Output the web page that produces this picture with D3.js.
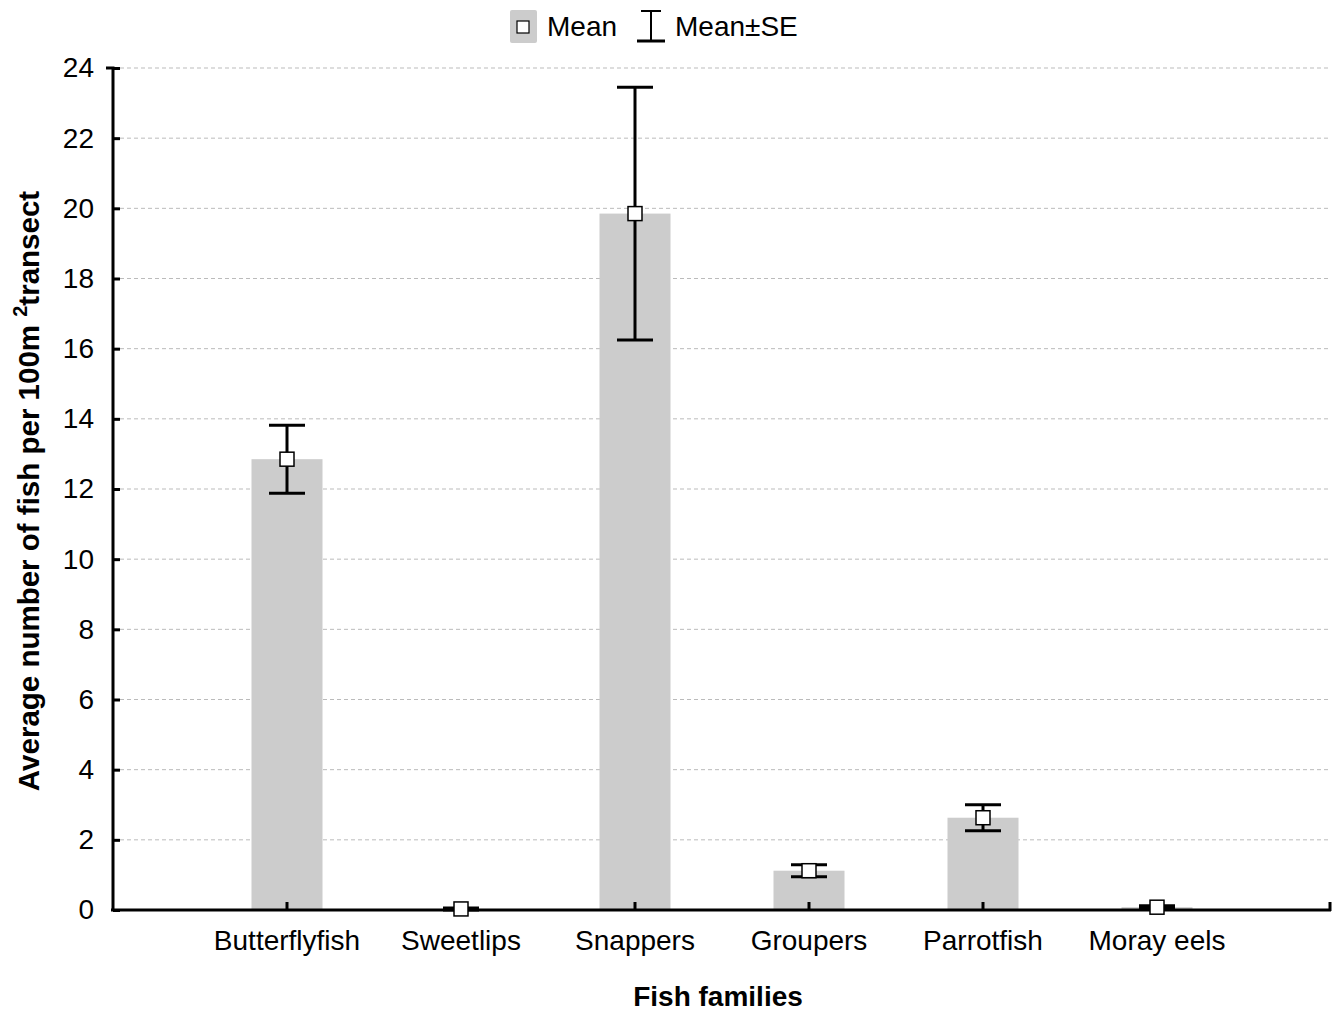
<!DOCTYPE html>
<html><head><meta charset="utf-8">
<script src="https://cdn.jsdelivr.net/npm/d3@7"></script>
<style>body{margin:0;background:#fff;} text{font-family:"Liberation Sans",Arial,sans-serif;}</style>
</head><body>
<svg id="c" width="1337" height="1011"></svg>
<script>
const categories = ["Butterflyfish","Sweetlips","Snappers","Groupers","Parrotfish","Moray eels"];
const means = [12.85, 0.03, 19.85, 1.12, 2.63, 0.08];
const se = [0.97, 0.03, 3.6, 0.17, 0.37, 0.04];
const yTicks = [0,2,4,6,8,10,12,14,16,18,20,22,24];

const svg = d3.select("#c");
const L = 113, R = 1331, T = 68, B = 910;
const x = d3.scaleLinear().domain([0, categories.length + 1]).range([L, R]);
const y = d3.scaleLinear().domain([0, 24]).range([B, T]);

// gridlines
svg.append("g").selectAll("line").data(yTicks.filter(d => d > 0)).join("line")
  .attr("x1", L).attr("x2", R).attr("y1", d => y(d)).attr("y2", d => y(d))
  .attr("stroke", "#bbb").attr("stroke-width", 1).attr("stroke-dasharray", "4,3");

// bars
const bw = 71;
svg.append("g").selectAll("rect").data(means).join("rect")
  .attr("x", (d, i) => x(i + 1) - bw / 2).attr("width", bw)
  .attr("y", d => y(d)).attr("height", d => B - y(d))
  .attr("fill", "#cccccc");

// y axis
const yAxis = d3.axisLeft(y).tickValues(yTicks).tickSize(-7).tickPadding(14).tickFormat(d3.format("d"));
const gy = svg.append("g").attr("transform", `translate(${L},0)`).call(yAxis);
gy.select(".domain").attr("stroke", "#000").attr("stroke-width", 3).attr("d", `M-7,${T}H0V${B}`);
gy.selectAll(".tick line").attr("stroke", "#000").attr("stroke-width", 3);
gy.selectAll(".tick text").attr("font-size", 28).attr("fill", "#000").attr("font-family", "Liberation Sans, Arial, sans-serif").attr("x", -19);
gy.selectAll(".tick").filter(d => d === 24).select("line").attr("x1", 0).attr("x2", 7);

// x axis
const gx = svg.append("g").attr("transform", `translate(0,${B})`);
gx.append("line").attr("x1", L - 2).attr("x2", R).attr("y1", 0).attr("y2", 0).attr("stroke", "#000").attr("stroke-width", 3);
gx.selectAll("line.t").data(categories).join("line").attr("class", "t")
  .attr("x1", (d, i) => x(i + 1)).attr("x2", (d, i) => x(i + 1)).attr("y1", 0).attr("y2", -8)
  .attr("stroke", "#000").attr("stroke-width", 3);
gx.append("line").attr("x1", R - 1).attr("x2", R - 1).attr("y1", 1).attr("y2", -8).attr("stroke", "#000").attr("stroke-width", 3);
gx.selectAll("text").data(categories).join("text")
  .attr("x", (d, i) => x(i + 1)).attr("y", 40).attr("text-anchor", "middle")
  .attr("font-size", 28).attr("fill", "#000").text(d => d);

// error bars
const cap = 36;
const eb = svg.append("g");
means.forEach((m, i) => {
  const cx = x(i + 1);
  const hi = y(m + se[i]), lo = y(m - se[i]);
  eb.append("line").attr("x1", cx).attr("x2", cx).attr("y1", hi).attr("y2", lo).attr("stroke", "#000").attr("stroke-width", 3);
  eb.append("line").attr("x1", cx - cap / 2).attr("x2", cx + cap / 2).attr("y1", hi).attr("y2", hi).attr("stroke", "#000").attr("stroke-width", 3);
  eb.append("line").attr("x1", cx - cap / 2).attr("x2", cx + cap / 2).attr("y1", lo).attr("y2", lo).attr("stroke", "#000").attr("stroke-width", 3);
  eb.append("rect").attr("x", cx - 7).attr("y", y(m) - 7).attr("width", 14).attr("height", 14)
    .attr("fill", "#fff").attr("stroke", "#000").attr("stroke-width", 1.5);
});

// legend
const lg = svg.append("g");
lg.append("rect").attr("x", 510).attr("y", 10).attr("width", 27).attr("height", 33).attr("rx", 2).attr("fill", "#cccccc");
lg.append("rect").attr("x", 517).attr("y", 21).attr("width", 12).attr("height", 12).attr("fill", "#fff").attr("stroke", "#000").attr("stroke-width", 1.2);
lg.append("text").attr("x", 547).attr("y", 36).attr("font-size", 28).attr("fill", "#000").text("Mean");
lg.append("line").attr("x1", 651).attr("x2", 651).attr("y1", 11).attr("y2", 41).attr("stroke", "#000").attr("stroke-width", 2);
lg.append("line").attr("x1", 641).attr("x2", 661).attr("y1", 11).attr("y2", 11).attr("stroke", "#000").attr("stroke-width", 2);
lg.append("line").attr("x1", 637).attr("x2", 665).attr("y1", 41).attr("y2", 41).attr("stroke", "#000").attr("stroke-width", 3);
lg.append("text").attr("x", 675).attr("y", 36).attr("font-size", 28).attr("fill", "#000").text("Mean±SE");

// axis titles
svg.append("text").attr("x", 718).attr("y", 1006).attr("text-anchor", "middle")
  .attr("font-size", 28).attr("font-weight", "bold").attr("fill", "#000").text("Fish families");
const yt = svg.append("text").attr("transform", "translate(39,491) rotate(-90)").attr("text-anchor", "middle")
  .attr("font-size", 29.5).attr("font-weight", "bold").attr("fill", "#000");
yt.append("tspan").text("Average number of fish per 100m   ");
yt.append("tspan").attr("font-size", 20).attr("baseline-shift", "60%").text("2");
yt.append("tspan").text("transect");
</script>
</body></html>
